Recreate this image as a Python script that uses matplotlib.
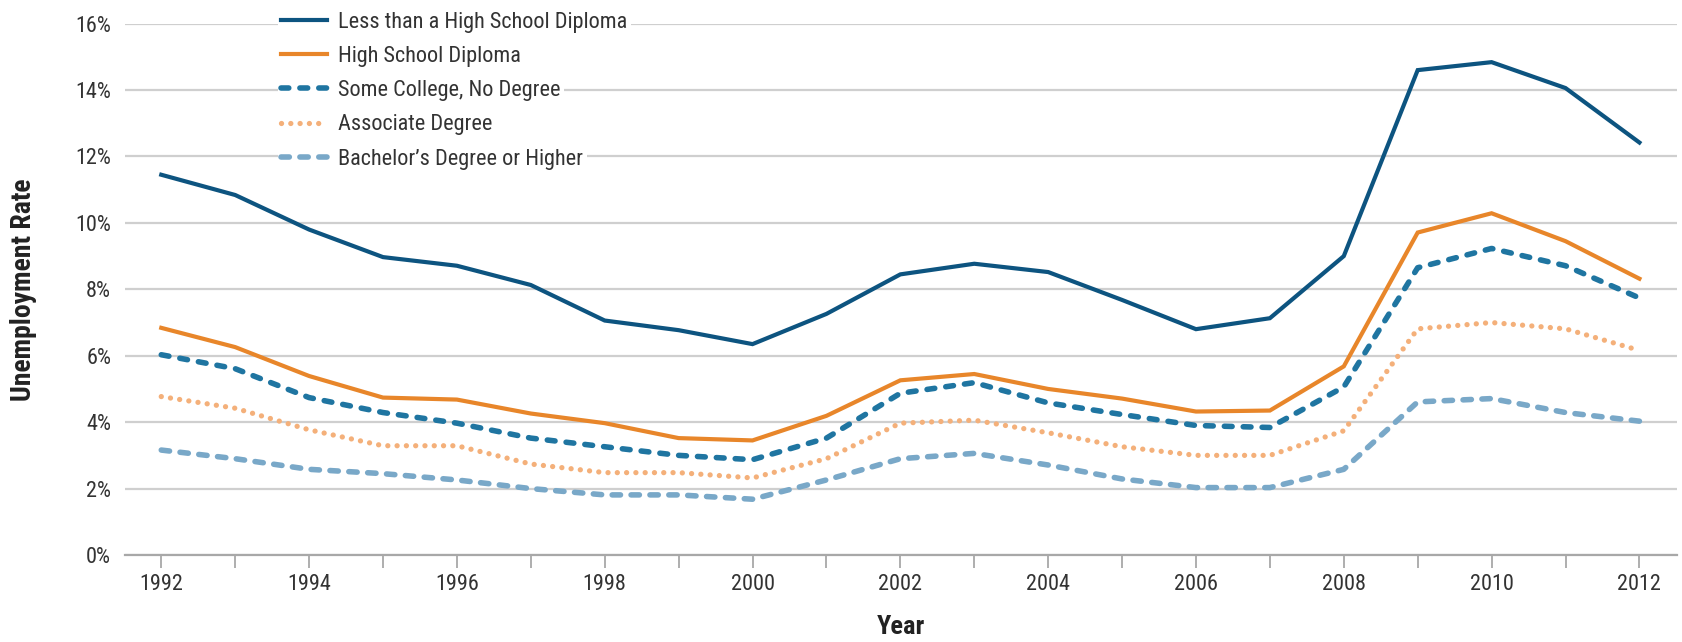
import matplotlib
matplotlib.use('Agg')
import matplotlib.pyplot as plt
from matplotlib import font_manager
from matplotlib.ticker import FuncFormatter, MultipleLocator

# condensed look if available
fam = 'DejaVu Sans'
for f in ['Liberation Sans Narrow', 'Roboto Condensed', 'Liberation Sans']:
    try:
        font_manager.findfont(f, fallback_to_default=False)
        fam = f
        break
    except Exception:
        pass
plt.rcParams['font.family'] = fam

years = list(range(1992, 2013))
less_hs = [11.45, 10.84, 9.8, 8.97, 8.71, 8.13, 7.06, 6.77, 6.35, 7.26, 8.45,
           8.77, 8.52, 7.68, 6.8, 7.13, 9.0, 14.6, 14.84, 14.06, 12.42]
hs_dip = [6.84, 6.26, 5.39, 4.74, 4.68, 4.26, 3.97, 3.52, 3.45, 4.19, 5.26,
          5.45, 5.0, 4.71, 4.32, 4.35, 5.68, 9.71, 10.29, 9.45, 8.32]
some_col = [6.03, 5.61, 4.74, 4.29, 3.97, 3.52, 3.26, 3.0, 2.87, 3.52, 4.87,
            5.19, 4.58, 4.23, 3.9, 3.84, 5.06, 8.65, 9.23, 8.71, 7.74]
assoc = [4.77, 4.42, 3.77, 3.29, 3.29, 2.74, 2.48, 2.48, 2.32, 2.9, 3.97,
         4.06, 3.68, 3.26, 3.0, 3.0, 3.74, 6.81, 7.0, 6.81, 6.16]
bach = [3.16, 2.9, 2.58, 2.45, 2.26, 2.0, 1.81, 1.81, 1.68, 2.26, 2.9,
        3.06, 2.71, 2.29, 2.03, 2.03, 2.58, 4.61, 4.71, 4.29, 4.03]

labels = ['Less than a High School Diploma', 'High School Diploma',
          'Some College, No Degree', 'Associate Degree',
          "Bachelor\u2019s Degree or Higher"]
series = [less_hs, hs_dip, some_col, assoc, bach]
colors = ['#0d5480', '#e8862a', '#1f75a1', '#f4b07a', '#79a8c8']
styles = [dict(lw=3.0, ls='-'),
          dict(lw=3.0, ls='-'),
          dict(lw=4.0, ls=(0, (1.4, 2.0)), dash_capstyle='round'),
          dict(lw=3.8, ls=(0, (0.01, 1.75)), dash_capstyle='round'),
          dict(lw=4.0, ls=(0, (1.5, 1.9)), dash_capstyle='round')]

fig = plt.figure(figsize=(16.83, 6.42), dpi=100)
ax = fig.add_axes([0.0743, 0.1355, 0.9222, 0.8277])

handles = []
for y, lab, c, st in zip(series, labels, colors, styles):
    ln, = ax.plot(years, y, color=c, label=lab, solid_joinstyle='miter', zorder=3, **st)
    handles.append(ln)

ax.set_xlim(1991.51, 2012.51)
ax.set_ylim(0, 16)
ax.yaxis.set_major_locator(MultipleLocator(2))
ax.yaxis.set_major_formatter(FuncFormatter(lambda v, p: f'{v:.0f}%'))
ax.set_xticks(years)
ax.set_xticklabels([str(y) if y % 2 == 0 else '' for y in years])
ax.grid(axis='y', color='#cfcfcf', lw=1.6, zorder=0)
for s in ['top', 'right', 'left']:
    ax.spines[s].set_visible(False)
ax.spines['bottom'].set_color('#a8a8a8')
ax.spines['bottom'].set_linewidth(1.6)
ax.tick_params(axis='y', length=0, pad=10, labelsize=16, labelcolor='#333333')
ax.tick_params(axis='x', length=9.5, width=1.3, color='#a8a8a8', pad=4,
               labelsize=16, labelcolor='#333333')

ax.set_ylabel('Unemployment Rate', fontsize=20, fontweight='bold', color='#222222')
ax.set_xlabel('Year', fontsize=19, fontweight='bold', color='#222222')
ax.yaxis.set_label_coords(-0.0565, 0.5)
ax.xaxis.set_label_coords(0.5, -0.112)

# one small legend per entry so each gets its own white patch
for i, h in enumerate(handles):
    leg = ax.legend([h], [labels[i]], loc='center left',
                    bbox_to_anchor=(0.0984, 1.003 - i * 0.0645),
                    frameon=True, framealpha=1, facecolor='white', edgecolor='none',
                    fancybox=False, fontsize=16, handlelength=2.07, handletextpad=0.5,
                    borderpad=0.15, borderaxespad=0)
    for t in leg.get_texts():
        t.set_color('#333333')
    ax.add_artist(leg)

fig.savefig('out.png', dpi=100)
